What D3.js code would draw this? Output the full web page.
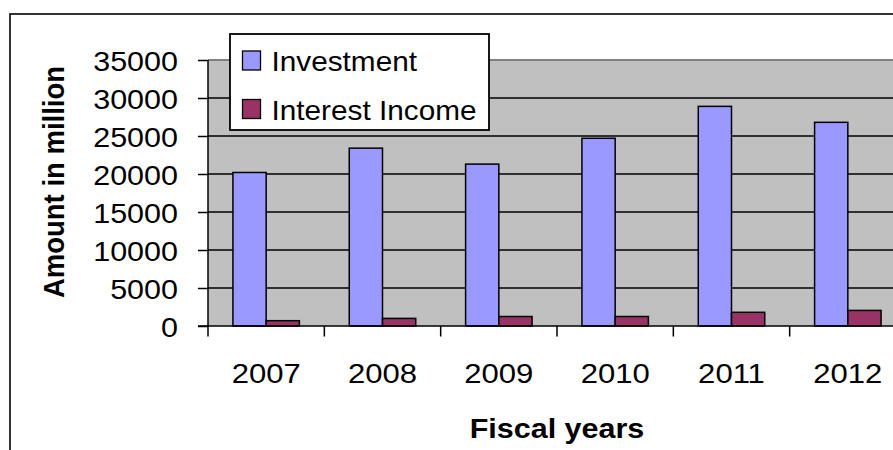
<!DOCTYPE html>
<html>
<head>
<meta charset="utf-8">
<script src="https://cdn.jsdelivr.net/npm/d3@7"></script>
<style>
  html, body { margin: 0; padding: 0; background: #fff; }
  svg { display: block; }
  text { font-family: "Liberation Sans", Arial, sans-serif; fill: #000; }
</style>
</head>
<body>
<svg id="chart" width="893" height="450"></svg>
<script>
// Fiscal years on the category axis
const years = ["2007", "2008", "2009", "2010", "2011", "2012"];
// Amounts in million
const investment = [20200, 23400, 21300, 24700, 28900, 26800];
const interestIncome = [700, 1000, 1250, 1250, 1800, 2050];
const seriesNames = ["Investment", "Interest Income"];
const seriesColors = ["#9999FF", "#993366"];
const yTicks = [0, 5000, 10000, 15000, 20000, 25000, 30000, 35000];

const svg = d3.select("#chart");
const W = 893, H = 450;
const plot = { left: 208, top: 60, right: 906, bottom: 326 };
const sx = 1.09; // horizontal text stretch

// outer chart frame
svg.append("rect")
  .attr("x", 10).attr("y", 14)
  .attr("width", W + 20).attr("height", H + 20)
  .attr("fill", "#fff").attr("stroke", "#000").attr("stroke-width", 1.6);

const x0 = d3.scaleBand().domain(years).range([plot.left, plot.right]).paddingInner(0).paddingOuter(0);
const x1 = d3.scaleBand().domain(seriesNames).range([0, x0.bandwidth()]).paddingInner(0).paddingOuter(0.75);
const y = d3.scaleLinear().domain([0, 35000]).range([plot.bottom, plot.top]);

// plot background
svg.append("rect")
  .attr("x", plot.left).attr("y", y(35000))
  .attr("width", plot.right - plot.left).attr("height", y(0) - y(35000))
  .attr("fill", "#C0C0C0");

// gridlines
svg.append("g")
  .selectAll("line")
  .data(yTicks.filter(t => t > 0 && t < 35000))
  .join("line")
  .attr("x1", plot.left).attr("x2", plot.right)
  .attr("y1", d => y(d)).attr("y2", d => y(d))
  .attr("stroke", "#000").attr("stroke-width", 1.5);

// top edge of plot area
svg.append("line")
  .attr("x1", plot.left).attr("x2", plot.right)
  .attr("y1", y(35000)).attr("y2", y(35000))
  .attr("stroke", "#808080").attr("stroke-width", 2);

// bars
const rows = years.map((yr, i) => ({ year: yr, values: [investment[i], interestIncome[i]] }));
const groups = svg.append("g").selectAll("g")
  .data(rows).join("g")
  .attr("transform", d => `translate(${x0(d.year)},0)`);
groups.selectAll("rect")
  .data(d => d.values.map((v, k) => ({ name: seriesNames[k], value: v, color: seriesColors[k] })))
  .join("rect")
  .attr("x", d => x1(d.name))
  .attr("y", d => y(d.value))
  .attr("width", x1.bandwidth())
  .attr("height", d => y(0) - y(d.value))
  .attr("fill", d => d.color)
  .attr("stroke", "#000").attr("stroke-width", 1.5);

// y axis
const yAxis = d3.axisLeft(y).tickValues(yTicks).tickSize(10).tickPadding(20).tickFormat(d3.format("d"));
const gy = svg.append("g").attr("transform", `translate(${plot.left},0)`).call(yAxis);
gy.select(".domain").attr("stroke", "#000").attr("stroke-width", 1.5).attr("d", `M0,${y(35000)}V${y(0) + 10.5}`);
gy.selectAll(".tick line").attr("stroke", "#000").attr("stroke-width", 1.5);
gy.selectAll(".tick text")
  .attr("font-size", 28).attr("font-family", "Liberation Sans, Arial, sans-serif")
  .attr("dy", null).attr("y", 10)
  .each(function () {
    const t = d3.select(this);
    t.attr("transform", `translate(-30,0) scale(${sx},1)`).attr("x", 0);
  });

// x axis baseline and boundary ticks
svg.append("line")
  .attr("x1", plot.left - 10).attr("x2", plot.right)
  .attr("y1", y(0)).attr("y2", y(0))
  .attr("stroke", "#000").attr("stroke-width", 1.5);
svg.append("g").selectAll("line")
  .data(years.slice(1))
  .join("line")
  .attr("x1", d => x0(d)).attr("x2", d => x0(d))
  .attr("y1", y(0)).attr("y2", y(0) + 10.5)
  .attr("stroke", "#000").attr("stroke-width", 1.5);

// x tick labels
svg.append("g").selectAll("text")
  .data(years).join("text")
  .attr("transform", d => `translate(${x0(d) + x0.bandwidth() / 2},383) scale(${sx},1)`)
  .attr("text-anchor", "middle")
  .attr("font-size", 28.5)
  .text(d => d);

// axis titles
svg.append("text")
  .attr("transform", `translate(557,438) scale(${sx},1)`)
  .attr("text-anchor", "middle")
  .attr("font-size", 28).attr("font-weight", "bold")
  .text("Fiscal years");
svg.append("text")
  .attr("transform", `translate(64,182) scale(${sx},1) rotate(-90)`)
  .attr("text-anchor", "middle")
  .attr("font-size", 27.5).attr("font-weight", "bold")
  .text("Amount in million");

// legend
const legend = svg.append("g");
legend.append("rect")
  .attr("x", 230).attr("y", 34).attr("width", 259).attr("height", 96)
  .attr("fill", "#fff").attr("stroke", "#000").attr("stroke-width", 1.8);
const items = legend.selectAll("g.item")
  .data(seriesNames).join("g")
  .attr("class", "item")
  .attr("transform", (d, i) => `translate(0,${i * 48.5})`);
items.append("rect")
  .attr("x", 242.5).attr("y", 51).attr("width", 18).attr("height", 19)
  .attr("fill", (d, i) => seriesColors[i])
  .attr("stroke", "#000").attr("stroke-width", 1.3);
items.append("text")
  .attr("transform", `translate(271.5,71) scale(${sx},1)`)
  .attr("font-size", 27.3)
  .text(d => d);
</script>
</body>
</html>
